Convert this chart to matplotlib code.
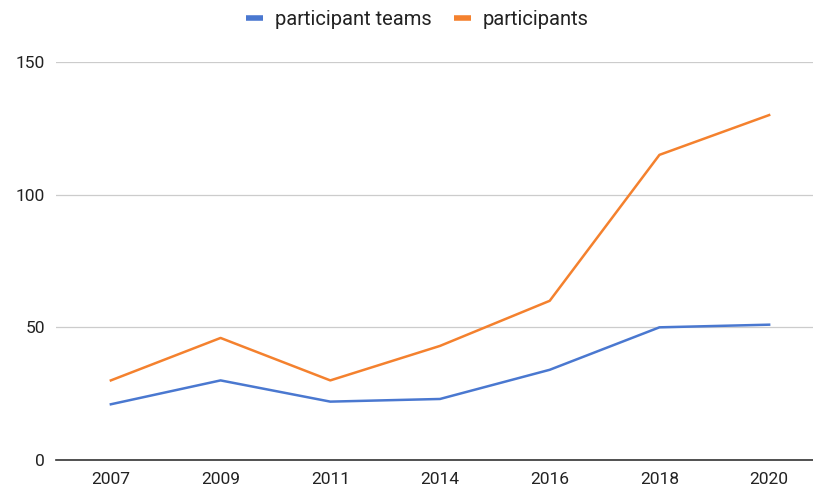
import matplotlib.pyplot as plt

# data
years = ['2007', '2009', '2011', '2014', '2016', '2018', '2020']
teams = [21, 30, 22, 23, 34, 50, 51]
participants = [30, 46, 30, 43, 60, 115, 130]

plt.rcParams['font.family'] = ['Roboto', 'DejaVu Sans']

fig = plt.figure(figsize=(8.13, 4.91), dpi=100)
# plot area runs off the right edge, like the cropped screenshot
ax = fig.add_axes([56 / 813, 31 / 491, 768 / 813, 398 / 491])

x = range(len(years))
ax.plot(x, teams, color='#4a78d0', lw=1.8, label='participant teams')
ax.plot(x, participants, color='#f4812e', lw=1.8, label='participants')

ax.set_xlim(-0.5, len(years) - 0.5)
ax.set_ylim(0, 150)
ax.set_yticks([0, 50, 100, 150])
ax.set_xticks(list(x))
ax.set_xticklabels(years)
ax.grid(axis='y', color='#cccccc', lw=0.9)
ax.set_axisbelow(True)

for s in ['top', 'right', 'left']:
    ax.spines[s].set_visible(False)
ax.spines['bottom'].set_color('#333333')
ax.spines['bottom'].set_linewidth(1.2)
ax.spines['bottom'].set_zorder(3)
ax.tick_params(length=0, labelsize=12.5, colors='#222222')
ax.tick_params(axis='y', pad=8)
ax.tick_params(axis='x', pad=9)

fig.legend(*ax.get_legend_handles_labels(), loc='center',
           bbox_to_anchor=(0.513, 0.961), ncol=2, frameon=False,
           fontsize=14.5, handlelength=0.85, handletextpad=0.6, columnspacing=1.1,
           labelcolor='#222222')
for h in fig.legends[0].get_lines():
    h.set_linewidth(4)
    h.set_solid_capstyle('butt')

plt.savefig('out.png', dpi=100)
